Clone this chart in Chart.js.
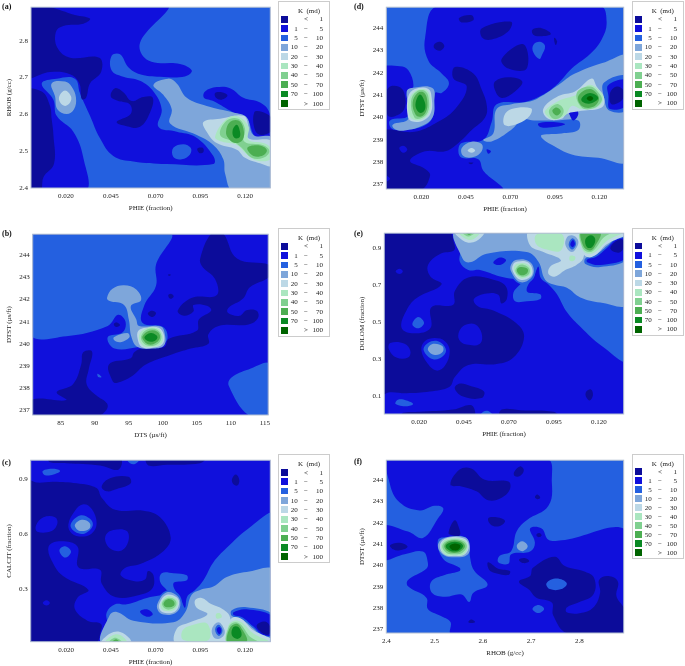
<!DOCTYPE html>
<html>
<head>
<meta charset="utf-8">
<title>K (md) contour panels</title>
<script src="https://cdn.jsdelivr.net/npm/chart.js@4"></script>
<style>
  html, body { margin: 0; background: #fff; overflow: hidden; }
  #page { position: relative; width: 685px; height: 666px; overflow: hidden; font-family: "Liberation Serif", serif; color: #222; }
  canvas { position: absolute; filter: blur(.35px); }
  .tag { position: absolute; font-weight: bold; font-size: 8px; color: #111; }
  .leg { position: absolute; border: 1px solid #ccc; box-sizing: border-box; font-size: 7px; background: #fff; filter: blur(.25px); }
  .leg span, .leg i { position: absolute; white-space: pre; line-height: 8px; }
</style>
</head>
<body>
<div id="page"></div>
<script>
// permeability classes, colour index = class index
const levelLow = ['', '1', '5', '10', '20', '30', '40', '50', '70', ''];
const levelMid = ['<', '\u2212', '\u2212', '\u2212', '\u2212', '\u2212', '\u2212', '\u2212', '\u2212', '>'];
const levelHigh = ['1', '5', '10', '20', '30', '40', '50', '70', '100', '100'];
const levelColors = ['#0c0c9a', '#1010dc', '#2460e0', '#7ea6da', '#bcd8e6', '#aae6c0', '#80d090', '#4cae52', '#0a8a24', '#006400'];

const phieTicks = [0.02, 0.045, 0.07, 0.095, 0.12];
const phieLabels = ['0.020', '0.045', '0.070', '0.095', '0.120'];
const rhobTicks = [2.4, 2.5, 2.6, 2.7, 2.8];
const rhobLabels = ['2.4', '2.5', '2.6', '2.7', '2.8'];
const dtstTicks = [237, 238, 239, 240, 241, 242, 243, 244];
const dtstLabels = ['237', '238', '239', '240', '241', '242', '243', '244'];
const dtsTicks = [85, 90, 95, 100, 105, 110, 115];
const dtsLabels = ['85', '90', '95', '100', '105', '110', '115'];
const calcitTicks = [0.3, 0.6, 0.9];
const calcitLabels = ['0.3', '0.6', '0.9'];
const dolomTicks = [0.1, 0.3, 0.5, 0.7, 0.9];
const dolomLabels = ['0.1', '0.3', '0.5', '0.7', '0.9'];

// contour regions: [class, outline in axis units], painted in order
const regionsA = [
  [1, [[-.003,2.9],[.0762,2.9],[.0613,2.794],[.066,2.746],[.0836,2.737],[.0902,2.719],[.0864,2.703],[.0725,2.702],[.0613,2.709],[.0548,2.728],[.0502,2.763],[.0455,2.759],[.0455,2.719],[.052,2.702],[.0613,2.691],[.0688,2.662],[.0734,2.614],[.0716,2.566],[.0818,2.553],[.092,2.539],[.1022,2.487],[.1022,2.465],[.0762,2.465],[.0576,2.472],[.0464,2.487],[.039,2.535],[.0334,2.596],[.0278,2.658],[.025,2.697],[.0148,2.697],[.0065,2.684],[.013,2.64],[.0148,2.596],[.0241,2.553],[.0297,2.482],[.0306,2.39],[-.003,2.39],[-.003,2.9]]],
  [0, [[-.003,2.9],[.0111,2.891],[.025,2.87],[.0334,2.86],[.0297,2.846],[.0185,2.84],[.0144,2.824],[.0152,2.781],[.0223,2.754],[.0386,2.754],[.0396,2.715],[.0334,2.684],[.0312,2.645],[.0288,2.642],[.0275,2.684],[.0223,2.709],[.0111,2.715],[-.003,2.703],[-.003,2.9]]],
  [0, [[-.003,2.662],[.0065,2.662],[.0111,2.623],[.012,2.588],[.013,2.544],[.0133,2.465],[.0075,2.43],[.0055,2.39],[-.003,2.39],[-.003,2.662]]],
  [0, [[.0474,2.671],[.052,2.66],[.0567,2.636],[.0632,2.647],[.0684,2.645],[.0669,2.605],[.0613,2.566],[.0539,2.568],[.0483,2.579],[.0561,2.601],[.0557,2.627],[.0492,2.636],[.045,2.649],[.0474,2.671]]],
  [1, [[.0976,2.662],[.1041,2.674],[.1115,2.671],[.119,2.645],[.1283,2.632],[.1335,2.605],[.135,2.544],[.1301,2.535],[.1255,2.539],[.1208,2.588],[.1134,2.605],[.1022,2.636],[.097,2.645],[.0976,2.662]]],
  [0, [[.1032,2.658],[.1069,2.66],[.1101,2.651],[.1069,2.64],[.1037,2.645],[.1032,2.658]]],
  [0, [[.0933,2.507],[.0963,2.509],[.0967,2.498],[.0944,2.495],[.0933,2.507]]],
  [2, [[.0799,2.509],[.0855,2.519],[.0896,2.509],[.0892,2.491],[.0846,2.478],[.0799,2.484],[.0799,2.509]]],
  [3, [[.0688,2.68],[.0771,2.697],[.0818,2.684],[.0874,2.645],[.0985,2.623],[.1134,2.605],[.1208,2.592],[.1246,2.544],[.135,2.535],[.135,2.39],[.1134,2.39],[.1088,2.439],[.1078,2.478],[.1022,2.517],[.093,2.544],[.0781,2.575],[.079,2.614],[.0743,2.653],[.0688,2.68]]],
  [0, [[.125,2.605],[.1292,2.607],[.135,2.588],[.135,2.557],[.1292,2.544],[.1255,2.557],[.125,2.605]]],
  [4, [[.0967,2.579],[.106,2.588],[.119,2.596],[.1218,2.566],[.1218,2.535],[.135,2.526],[.135,2.461],[.1283,2.467],[.1199,2.482],[.1153,2.504],[.1041,2.522],[.0985,2.553],[.0967,2.579]]],
  [5, [[.1032,2.539],[.1097,2.588],[.1162,2.594],[.1218,2.566],[.1218,2.531],[.1301,2.522],[.134,2.509],[.134,2.478],[.1264,2.475],[.1199,2.496],[.1153,2.517],[.1069,2.526],[.1032,2.539]]],
  [6, [[.106,2.544],[.1097,2.583],[.1162,2.588],[.1199,2.561],[.1195,2.526],[.1301,2.516],[.1335,2.5],[.1301,2.482],[.1236,2.482],[.118,2.509],[.1134,2.526],[.106,2.544]]],
  [7, [[.1093,2.553],[.1115,2.579],[.1162,2.583],[.119,2.561],[.1186,2.531],[.1143,2.522],[.1106,2.535],[.1093,2.553]]],
  [7, [[.1212,2.509],[.1274,2.516],[.132,2.504],[.1301,2.489],[.1246,2.487],[.1212,2.509]]],
  [8, [[.113,2.557],[.1153,2.572],[.1171,2.553],[.1167,2.537],[.1138,2.537],[.113,2.557]]],
  [3, [[.012,2.684],[.0195,2.689],[.0232,2.675],[.0256,2.645],[.0245,2.614],[.0204,2.601],[.0152,2.614],[.0139,2.649],[.012,2.684]]],
  [4, [[.0163,2.649],[.0195,2.665],[.0228,2.649],[.0223,2.632],[.0195,2.623],[.0167,2.633],[.0163,2.649]]]
];

const regionsB = [
  [2, [[80.5,245],[101,245],[99,243.56],[99,242.62],[97.3,241.75],[97,240.95],[100.2,240.73],[100.4,240.08],[96.5,239.86],[92.9,239.79],[91.9,240.3],[94.1,240.52],[94.5,241.02],[93.4,241.31],[91.9,240.81],[85.8,240.35],[80.5,240.47],[80.5,245]]],
  [2, [[115.8,239.07],[112.6,238.85],[110.1,238.49],[109.7,238.12],[112.7,236.77],[115.8,236.77],[115.8,239.07]]],
  [2, [[90.4,238.66],[91,238.51],[90.5,238.51],[90.4,238.66]]],
  [0, [[105.5,243.85],[107.2,245],[108.8,245],[110.9,243.85],[115.8,243.54],[115.8,243.06],[112.8,242.55],[111.8,242.04],[109.6,241.61],[109.6,241.39],[111.3,241.27],[112.3,241.52],[113.8,241.49],[114,241.17],[112.6,240.88],[108.2,240.81],[106.7,240.44],[106.7,240.01],[104.1,239.79],[101.1,239.5],[97.5,239.07],[95.5,238.56],[93.2,238.24],[92.6,238.34],[92.1,239.09],[95.3,239.36],[95.8,239.62],[97,239.79],[100.2,239.86],[100.9,240.23],[105,240.59],[105.3,241.1],[107.1,241.49],[106.5,241.72],[104.5,241.75],[104.5,241.46],[103.1,241.27],[102.2,241.5],[104.3,242.08],[107.9,242.19],[107.7,242.91],[105.8,243.49],[105.5,243.85]]],
  [0, [[85.8,237.47],[84.4,237.83],[86.8,238.19],[88,239.07],[88.3,239.62],[89.6,239.65],[89.1,238.85],[88.8,238.19],[90.2,237.69],[91.8,237.32],[91.7,237.03],[90.4,236.77],[80.5,236.77],[80.5,237.47],[85.8,237.47]]],
  [0, [[97.8,241.36],[98.4,241.49],[99,241.39],[98.5,241.21],[97.8,241.36]]],
  [0, [[100.8,242.19],[101.2,242.26],[101.6,242.14],[101.1,242.03],[100.8,242.19]]],
  [0, [[100.8,243.13],[101.2,243.11],[100.9,243.06],[100.8,243.13]]],
  [0, [[92.8,240.88],[93.2,240.97],[93.7,240.85],[93.2,240.76],[92.8,240.88]]],
  [3, [[91.8,242.08],[92.6,242.48],[94.3,242.64],[96.1,242.45],[96.8,241.97],[95.3,241.71],[96.1,241.1],[96.5,240.81],[99.7,240.78],[100.3,240.44],[100.2,239.94],[98.7,239.79],[96.3,239.86],[95.4,240.3],[95,241.1],[94.3,241.75],[92.1,241.94],[91.8,242.08]]],
  [3, [[92.8,240.3],[94.8,240.49],[95.1,240.3],[93.8,240.08],[92.9,240.15],[92.8,240.3]]],
  [4, [[96.4,240.59],[97.5,240.73],[99.4,240.73],[100.2,240.37],[99.9,239.97],[98.5,239.83],[96.9,239.86],[96.3,240.23],[96.4,240.59]]],
  [5, [[96.5,240.37],[97.5,240.69],[99.3,240.69],[100,240.34],[99.7,239.97],[98.2,239.86],[97,239.94],[96.5,240.37]]],
  [6, [[96.8,240.34],[97.7,240.65],[99.2,240.63],[99.8,240.33],[99.3,240.01],[98,239.91],[97.1,240.05],[96.8,240.34]]],
  [7, [[97,240.33],[98,240.59],[99.2,240.55],[99.6,240.3],[99,240.05],[98,239.97],[97.3,240.11],[97,240.33]]],
  [8, [[97.3,240.31],[98.2,240.49],[99,240.4],[99.2,240.27],[98.6,240.11],[97.7,240.14],[97.3,240.31]]]
];

const regionsC = [
  [0, [[-.003,.896],[.0037,.879],[.013,.884],[.026,.875],[.037,.849],[.0399,.797],[.0474,.732],[.0632,.727],[.0725,.692],[.0784,.582],[.0743,.508],[.0613,.438],[.0529,.417],[.0505,.377],[.0576,.347],[.0641,.354],[.0658,.4],[.0688,.377],[.0682,.307],[.0613,.272],[.0474,.26],[.0399,.333],[.039,.407],[.0269,.421],[.0263,.534],[.0158,.561],[.0102,.529],[.013,.438],[.0185,.372],[.0325,.298],[.0263,.255],[.025,.193],[.0319,.132],[.0394,.115],[.0394,.074],[.0362,.01],[-.003,.01],[-.003,.896]]],
  [1, [[.0033,.648],[.0074,.692],[.0139,.692],[.0152,.657],[.012,.617],[.004,.613],[.0033,.648]]],
  [1, [[.0213,.652],[.025,.727],[.0297,.762],[.0344,.736],[.0371,.657],[.0344,.604],[.0288,.587],[.0232,.604],[.0213,.652]]],
  [2, [[.0226,.652],[.0278,.701],[.0334,.683],[.0349,.645],[.0306,.604],[.025,.613],[.0226,.652]]],
  [3, [[.025,.652],[.0288,.678],[.0331,.662],[.0331,.631],[.0288,.617],[.026,.627],[.025,.652]]],
  [1, [[.0423,.596],[.0464,.622],[.0539,.617],[.0548,.561],[.0511,.512],[.0455,.517],[.0423,.552],[.0423,.596]]],
  [2, [[.0163,.512],[.0195,.534],[.0228,.505],[.0195,.473],[.0163,.512]]],
  [1, [[.007,.228],[.0092,.242],[.011,.228],[.0092,.214],[.007,.228]]],
  [0, [[.0102,1.01],[.0502,1.01],[.0492,.949],[.039,.972],[.0204,.984],[.0111,.989],[.0102,1.01]]],
  [2, [[.007,.942],[.013,.954],[.0167,.942],[.013,.923],[.0083,.919],[.007,.942]]],
  [0, [[.0399,.858],[.0446,.902],[.0548,.91],[.0561,.875],[.0483,.844],[.0427,.832],[.0399,.858]]],
  [0, [[.065,1.01],[.0976,1.01],[.0948,.984],[.0762,.975],[.066,.972],[.065,1.01]]],
  [0, [[.1128,.902],[.1149,.923],[.1167,.893],[.1156,.863],[.113,.875],[.1128,.902]]],
  [2, [[.0539,1.01],[.0613,1.01],[.0585,.98],[.0557,.984],[.0539,1.01]]],
  [2, [[.136,.704],[.1218,.631],[.1097,.526],[.1022,.447],[.0967,.351],[.092,.298],[.0877,.263],[.0864,.202],[.0846,.237],[.0799,.333],[.0874,.351],[.0874,.377],[.08,.389],[.0734,.389],[.0725,.342],[.0762,.298],[.0781,.281],[.0651,.255],[.0539,.22],[.0474,.22],[.0427,.176],[.0431,.106],[.0409,.01],[.136,.01],[.136,.704]]],
  [1, [[.0613,.181],[.065,.193],[.0684,.167],[.065,.153],[.0613,.181]]],
  [3, [[.0409,.01],[.0442,.158],[.0483,.179],[.0576,.132],[.0799,.123],[.0864,.176],[.0901,.272],[.0948,.298],[.1022,.316],[.1097,.368],[.1208,.395],[.136,.4],[.136,.01],[.0409,.01]]],
  [2, [[.0697,.228],[.0762,.295],[.0827,.277],[.0846,.216],[.0809,.167],[.0744,.158],[.0697,.188],[.0697,.228]]],
  [3, [[.0712,.228],[.0762,.285],[.0822,.265],[.0838,.214],[.0809,.172],[.0744,.165],[.0712,.19],[.0712,.228]]],
  [4, [[.0722,.228],[.0762,.272],[.0818,.258],[.0831,.22],[.0805,.179],[.0748,.175],[.0722,.193],[.0722,.228]]],
  [5, [[.073,.228],[.0765,.264],[.0814,.25],[.0824,.22],[.08,.188],[.075,.185],[.073,.2],[.073,.228]]],
  [6, [[.0736,.228],[.0768,.255],[.0809,.244],[.0814,.214],[.0784,.193],[.0752,.197],[.0736,.228]]],
  [7, [[.0745,.228],[.0768,.248],[.0801,.237],[.0803,.214],[.077,.204],[.075,.21],[.0745,.228]]],
  [4, [[.0814,.01],[.0818,.088],[.0892,.123],[.0989,.167],[.0929,.202],[.092,.242],[.0957,.255],[.1013,.22],[.1075,.193],[.1115,.15],[.1115,.01],[.0814,.01]]],
  [5, [[.0851,.08],[.0911,.11],[.0989,.115],[.0995,.027],[.0855,.027],[.0851,.08]]],
  [5, [[.1037,.167],[.106,.171],[.1069,.15],[.1041,.144],[.1037,.167]]],
  [3, [[.1015,.088],[.105,.123],[.1082,.088],[.1082,.054],[.105,.033],[.1022,.045],[.1015,.088]]],
  [2, [[.1032,.083],[.105,.11],[.1071,.09],[.1069,.062],[.105,.05],[.1032,.083]]],
  [1, [[.1041,.083],[.1054,.097],[.1067,.08],[.1056,.059],[.1041,.083]]],
  [2, [[.1125,.188],[.1208,.204],[.136,.16],[.136,.05],[.1301,.045],[.1246,.09],[.118,.14],[.1125,.158],[.1125,.188]]],
  [1, [[.1135,.178],[.1208,.193],[.136,.15],[.136,.06],[.1301,.054],[.1246,.1],[.118,.152],[.1135,.163],[.1135,.178]]],
  [0, [[.1264,.106],[.1311,.127],[.134,.097],[.1331,.057],[.1292,.067],[.1264,.106]]],
  [4, [[.1102,.01],[.1106,.115],[.1134,.15],[.118,.141],[.1246,.08],[.136,.027],[.136,.01],[.1102,.01]]],
  [5, [[.1102,.01],[.1106,.106],[.1138,.132],[.118,.123],[.1246,.062],[.1329,.018],[.1102,.01]]],
  [6, [[.1102,.01],[.1108,.097],[.1143,.123],[.1175,.111],[.1227,.045],[.1283,.01],[.1102,.01]]],
  [7, [[.1104,.01],[.1112,.088],[.1149,.115],[.1175,.097],[.1208,.018],[.1104,.01]]],
  [8, [[.1125,.054],[.1134,.097],[.1162,.097],[.118,.054],[.1156,.033],[.1125,.054]]],
  [4, [[.0399,.01],[.0446,.062],[.0502,.071],[.0554,.036],[.0561,.01],[.0399,.01]]],
  [5, [[.0418,.01],[.0455,.05],[.0502,.054],[.054,.01],[.0418,.01]]],
  [6, [[.0437,.01],[.0474,.04],[.0516,.01],[.0437,.01]]],
  [7, [[.0455,.01],[.0479,.031],[.05,.01],[.0455,.01]]]
];

const regionsD = [
  [1, [[.0296,245],[.1203,245],[.1241,244.29],[.1213,243.49],[.1148,242.84],[.1045,242.19],[.097,241.54],[.0885,241.03],[.0782,240.7],[.0623,240.6],[.0595,239.8],[.0548,239],[.0427,238.86],[.0408,238.49],[.0427,238.2],[.052,238.13],[.0548,237.62],[.0651,236.75],[-.003,236.75],[-.003,242.12],[.008,242.3],[.0127,242.12],[.0155,241.39],[.0118,241.17],[.0127,240.09],[.0024,239.87],[.0033,239.51],[.0108,239.44],[.0221,239.65],[.0267,240.09],[.0277,241.1],[.0314,241.1],[.0355,241.54],[.0314,241.97],[.0239,242.55],[.0221,243.57],[.0296,245]]],
  [0, [[-.003,239.29],[.0163,239.36],[.0277,239.73],[.039,240.38],[.0455,241.39],[.038,241.75],[.0389,242.26],[.0492,241.97],[.0539,241.25],[.0568,240.52],[.0558,240],[.0483,239.44],[.0408,238.86],[.0334,238.49],[.0221,238.49],[.0136,238.06],[.0221,237.7],[.0249,237.41],[.0193,236.75],[-.003,236.75],[-.003,239.29]]],
  [1, [[.0076,238.64],[.0099,238.74],[.0121,238.57],[.0099,238.42],[.0076,238.64]]],
  [1, [[-.003,237.48],[.0024,237.26],[-.003,237.07],[-.003,237.48]]],
  [0, [[.0014,241.32],[.0071,241.39],[.0104,241.1],[.0104,240.38],[.0052,240.06],[.0011,240.09],[.0005,240.67],[.0014,241.32]]],
  [0, [[.0412,244.46],[.0483,244.58],[.0492,244.36],[.0427,244.26],[.0412,244.46]]],
  [0, [[.0539,243.99],[.0704,244.29],[.0689,243.86],[.0595,243.49],[.0543,243.57],[.0539,243.99]]],
  [0, [[.0824,243.93],[.0876,244],[.0928,243.74],[.0867,243.64],[.0829,243.71],[.0824,243.93]]],
  [0, [[.0947,243.57],[.0962,243.42],[.0955,243.25],[.0947,243.42],[.0947,243.57]]],
  [0, [[.0273,243.28],[.0305,243.39],[.0329,243.2],[.0305,242.99],[.0273,243.1],[.0273,243.28]]],
  [0, [[.0651,242.62],[.0773,243.28],[.0792,242.19],[.0689,242.19],[.0651,242.62]]],
  [0, [[.0614,241.61],[.0689,241.8],[.0767,241.61],[.0726,241.17],[.0651,240.88],[.0614,241.22],[.0614,241.61]]],
  [2, [[.0829,243.25],[.0867,243.39],[.0895,243.2],[.0876,242.77],[.0863,242.62],[.0829,242.92],[.0829,243.25]]],
  [3, [[.0548,239],[.0604,239.29],[.0623,240.38],[.0707,240.6],[.082,240.74],[.0876,240.96],[.097,241.46],[.1063,241.97],[.1232,242.48],[.136,242.7],[.136,238.1],[.1194,238.2],[.1045,238.35],[.0932,238.78],[.0876,239.1],[.0876,239.22],[.0988,239.29],[.1082,239.44],[.1082,239.87],[.0955,239.87],[.0833,239.87],[.0768,239.91],[.0704,239.44],[.0595,238.93],[.0548,239]]],
  [2, [[.1227,241.57],[.136,241.83],[.136,240.38],[.1259,240.3],[.1227,240.88],[.1227,241.57]]],
  [1, [[.1251,241.46],[.136,241.65],[.136,240.6],[.126,240.38],[.1251,240.96],[.1251,241.46]]],
  [0, [[.126,241.1],[.1298,241.39],[.1335,241.22],[.133,240.81],[.1269,240.6],[.126,241.1]]],
  [1, [[.0857,239.73],[.0932,239.8],[.1007,239.7],[.0932,239.56],[.0867,239.58],[.0857,239.73]]],
  [1, [[.1029,240.3],[.1063,240.45],[.1082,240.16],[.1054,239.87],[.1035,240.09],[.1029,240.3]]],
  [1, [[.0567,238.57],[.0591,238.49],[.0576,238.38],[.0567,238.57]]],
  [3, [[.0427,238.64],[.0483,238.92],[.0539,238.81],[.0539,238.49],[.0492,238.23],[.0436,238.28],[.0427,238.64]]],
  [4, [[.046,238.52],[.0483,238.64],[.0502,238.52],[.0483,238.42],[.046,238.52]]],
  [0, [[.0464,237.97],[.0492,237.97],[.0479,237.91],[.0464,237.97]]],
  [3, [[.0039,239.68],[.0127,239.94],[.0118,241.17],[.0146,241.32],[.0262,241.32],[.0273,240.67],[.0264,240.02],[.0211,239.65],[.0108,239.42],[.0052,239.48],[.0039,239.68]]],
  [4, [[.0127,240.96],[.0164,241.28],[.0239,241.28],[.0258,240.88],[.0254,240.23],[.0211,239.87],[.0146,239.83],[.0123,240.09],[.0127,240.96]]],
  [5, [[.0131,240.81],[.0174,241.22],[.023,241.22],[.0252,240.81],[.0243,240.23],[.0202,239.91],[.0155,239.91],[.0131,240.16],[.0131,240.81]]],
  [6, [[.0142,240.74],[.0174,241.17],[.0224,241.17],[.0243,240.74],[.0235,240.23],[.0198,239.97],[.0161,240],[.0142,240.74]]],
  [7, [[.0151,240.67],[.0179,241.1],[.0217,241.1],[.0234,240.67],[.0224,240.23],[.0195,240.04],[.0168,240.12],[.0151,240.67]]],
  [8, [[.0168,240.67],[.0192,241.03],[.0217,240.74],[.0221,240.38],[.0198,240.2],[.0174,240.35],[.0168,240.67]]],
  [4, [[.0666,240.09],[.0707,240.38],[.0816,240.41],[.081,240.09],[.0745,239.73],[.067,239.65],[.0666,240.09]]],
  [4, [[.0885,240.38],[.097,240.96],[.1063,241.17],[.1157,241.75],[.1185,241.39],[.1227,240.88],[.1213,240.45],[.1101,240.3],[.1017,240.16],[.0988,239.94],[.0913,239.94],[.0885,240.38]]],
  [5, [[.0895,240.3],[.097,240.74],[.1073,241.03],[.1138,241.46],[.1185,241.32],[.1223,240.88],[.1185,240.45],[.1101,240.38],[.1045,240.52],[.1007,240.09],[.0942,239.91],[.0904,240.09],[.0895,240.3]]],
  [6, [[.0917,240.3],[.096,240.6],[.0998,240.38],[.0988,240.06],[.0942,239.94],[.0917,240.3]]],
  [6, [[.1073,241.1],[.1148,241.39],[.1204,241.03],[.1213,240.74],[.1166,240.41],[.1101,240.45],[.1073,241.1]]],
  [7, [[.0936,240.3],[.096,240.45],[.0984,240.27],[.096,240.09],[.0936,240.3]]],
  [7, [[.1082,240.96],[.1148,241.28],[.1198,240.88],[.1166,240.48],[.1101,240.52],[.1082,240.96]]],
  [8, [[.1101,240.88],[.1148,241.1],[.1194,240.88],[.1148,240.63],[.1105,240.71],[.1101,240.88]]],
  [9, [[.1129,240.85],[.1148,240.96],[.1166,240.85],[.1148,240.74],[.1129,240.85]]]
];

const regionsE = [
  [0, [[-.003,.104],[.0037,.121],[.013,.116],[.026,.125],[.037,.151],[.0399,.203],[.0474,.268],[.0632,.273],[.0725,.308],[.0784,.418],[.0743,.492],[.0613,.562],[.0529,.583],[.0505,.623],[.0576,.653],[.0641,.646],[.0658,.6],[.0688,.623],[.0682,.693],[.0613,.728],[.0474,.74],[.0399,.667],[.039,.593],[.0269,.579],[.0263,.466],[.0158,.439],[.0102,.471],[.013,.562],[.0185,.628],[.0325,.702],[.0263,.745],[.025,.807],[.0319,.868],[.0394,.885],[.0394,.926],[.0362,.99],[-.003,.99],[-.003,.104]]],
  [1, [[.0033,.352],[.0074,.308],[.0139,.308],[.0152,.343],[.012,.383],[.004,.387],[.0033,.352]]],
  [1, [[.0213,.348],[.025,.273],[.0297,.238],[.0344,.264],[.0371,.343],[.0344,.396],[.0288,.413],[.0232,.396],[.0213,.348]]],
  [2, [[.0226,.348],[.0278,.299],[.0334,.317],[.0349,.355],[.0306,.396],[.025,.387],[.0226,.348]]],
  [3, [[.025,.348],[.0288,.322],[.0331,.338],[.0331,.369],[.0288,.383],[.026,.373],[.025,.348]]],
  [1, [[.0423,.404],[.0464,.378],[.0539,.383],[.0548,.439],[.0511,.488],[.0455,.483],[.0423,.448],[.0423,.404]]],
  [2, [[.0163,.488],[.0195,.466],[.0228,.495],[.0195,.527],[.0163,.488]]],
  [1, [[.007,.772],[.0092,.758],[.011,.772],[.0092,.786],[.007,.772]]],
  [0, [[.0102,-.01],[.0502,-.01],[.0492,.051],[.039,.028],[.0204,.016],[.0111,.011],[.0102,-.01]]],
  [2, [[.007,.058],[.013,.046],[.0167,.058],[.013,.077],[.0083,.081],[.007,.058]]],
  [0, [[.0399,.142],[.0446,.098],[.0548,.09],[.0561,.125],[.0483,.156],[.0427,.168],[.0399,.142]]],
  [0, [[.065,-.01],[.0976,-.01],[.0948,.016],[.0762,.025],[.066,.028],[.065,-.01]]],
  [0, [[.1128,.098],[.1149,.077],[.1167,.107],[.1156,.137],[.113,.125],[.1128,.098]]],
  [2, [[.0539,-.01],[.0613,-.01],[.0585,.02],[.0557,.016],[.0539,-.01]]],
  [2, [[.136,.296],[.1218,.369],[.1097,.474],[.1022,.553],[.0967,.649],[.092,.702],[.0877,.737],[.0864,.798],[.0846,.763],[.0799,.667],[.0874,.649],[.0874,.623],[.08,.611],[.0734,.611],[.0725,.658],[.0762,.702],[.0781,.719],[.0651,.745],[.0539,.78],[.0474,.78],[.0427,.824],[.0431,.894],[.0409,.99],[.136,.99],[.136,.296]]],
  [1, [[.0613,.819],[.065,.807],[.0684,.833],[.065,.847],[.0613,.819]]],
  [3, [[.0409,.99],[.0442,.842],[.0483,.821],[.0576,.868],[.0799,.877],[.0864,.824],[.0901,.728],[.0948,.702],[.1022,.684],[.1097,.632],[.1208,.605],[.136,.6],[.136,.99],[.0409,.99]]],
  [2, [[.0697,.772],[.0762,.705],[.0827,.723],[.0846,.784],[.0809,.833],[.0744,.842],[.0697,.812],[.0697,.772]]],
  [3, [[.0712,.772],[.0762,.715],[.0822,.735],[.0838,.786],[.0809,.828],[.0744,.835],[.0712,.81],[.0712,.772]]],
  [4, [[.0722,.772],[.0762,.728],[.0818,.742],[.0831,.78],[.0805,.821],[.0748,.825],[.0722,.807],[.0722,.772]]],
  [5, [[.073,.772],[.0765,.736],[.0814,.75],[.0824,.78],[.08,.812],[.075,.815],[.073,.8],[.073,.772]]],
  [6, [[.0736,.772],[.0768,.745],[.0809,.756],[.0814,.786],[.0784,.807],[.0752,.803],[.0736,.772]]],
  [7, [[.0745,.772],[.0768,.752],[.0801,.763],[.0803,.786],[.077,.796],[.075,.79],[.0745,.772]]],
  [4, [[.0814,.99],[.0818,.912],[.0892,.877],[.0989,.833],[.0929,.798],[.092,.758],[.0957,.745],[.1013,.78],[.1075,.807],[.1115,.85],[.1115,.99],[.0814,.99]]],
  [5, [[.0851,.92],[.0911,.89],[.0989,.885],[.0995,.973],[.0855,.973],[.0851,.92]]],
  [5, [[.1037,.833],[.106,.829],[.1069,.85],[.1041,.856],[.1037,.833]]],
  [3, [[.1015,.912],[.105,.877],[.1082,.912],[.1082,.946],[.105,.967],[.1022,.955],[.1015,.912]]],
  [2, [[.1032,.917],[.105,.89],[.1071,.91],[.1069,.938],[.105,.95],[.1032,.917]]],
  [1, [[.1041,.917],[.1054,.903],[.1067,.92],[.1056,.941],[.1041,.917]]],
  [2, [[.1125,.812],[.1208,.796],[.136,.84],[.136,.95],[.1301,.955],[.1246,.91],[.118,.86],[.1125,.842],[.1125,.812]]],
  [1, [[.1135,.822],[.1208,.807],[.136,.85],[.136,.94],[.1301,.946],[.1246,.9],[.118,.848],[.1135,.837],[.1135,.822]]],
  [0, [[.1264,.894],[.1311,.873],[.134,.903],[.1331,.943],[.1292,.933],[.1264,.894]]],
  [4, [[.1102,.99],[.1106,.885],[.1134,.85],[.118,.859],[.1246,.92],[.136,.973],[.136,.99],[.1102,.99]]],
  [5, [[.1102,.99],[.1106,.894],[.1138,.868],[.118,.877],[.1246,.938],[.1329,.982],[.1102,.99]]],
  [6, [[.1102,.99],[.1108,.903],[.1143,.877],[.1175,.889],[.1227,.955],[.1283,.99],[.1102,.99]]],
  [7, [[.1104,.99],[.1112,.912],[.1149,.885],[.1175,.903],[.1208,.982],[.1104,.99]]],
  [8, [[.1125,.946],[.1134,.903],[.1162,.903],[.118,.946],[.1156,.967],[.1125,.946]]],
  [4, [[.0399,.99],[.0446,.938],[.0502,.929],[.0554,.964],[.0561,.99],[.0399,.99]]],
  [5, [[.0418,.99],[.0455,.95],[.0502,.946],[.054,.99],[.0418,.99]]],
  [6, [[.0437,.99],[.0474,.96],[.0516,.99],[.0437,.99]]],
  [7, [[.0455,.99],[.0479,.969],[.05,.99],[.0455,.99]]]
];

const regionsF = [
  [1, [[2.407,245],[2.732,245],[2.743,243.94],[2.736,242.8],[2.691,242.12],[2.67,241.59],[2.659,240.68],[2.635,240.45],[2.632,240.15],[2.653,240.08],[2.659,240.53],[2.698,240.65],[2.708,241.06],[2.698,241.74],[2.722,241.74],[2.736,241.21],[2.763,241.18],[2.9,241.56],[2.9,236.8],[2.535,236.8],[2.533,237.35],[2.511,237.65],[2.486,237.96],[2.483,238.49],[2.445,239.02],[2.445,239.32],[2.483,239.85],[2.486,240.15],[2.476,240.65],[2.438,240.53],[2.39,240.3],[2.39,241.82],[2.445,241.59],[2.476,241.29],[2.507,242.2],[2.518,242.68],[2.5,242.8],[2.469,242.58],[2.428,242.95],[2.407,243.86],[2.407,245]]],
  [2, [[2.507,241.18],[2.528,241.33],[2.563,241.33],[2.573,240.85],[2.573,240.47],[2.582,239.76],[2.61,239.09],[2.58,238.71],[2.572,238.29],[2.556,238.64],[2.521,238.53],[2.495,238.71],[2.493,239.24],[2.521,239.55],[2.552,239.74],[2.552,239.89],[2.518,240.3],[2.507,241.18]]],
  [0, [[2.533,243.79],[2.552,244.5],[2.576,244.55],[2.604,244.02],[2.653,243.94],[2.656,243.56],[2.639,243.18],[2.611,243.06],[2.587,243.48],[2.556,243.71],[2.533,243.79]]],
  [0, [[2.665,244.39],[2.677,244.65],[2.685,244.47],[2.677,244.2],[2.666,244.2],[2.665,244.39]]],
  [0, [[2.708,243.21],[2.713,243.33],[2.719,243.18],[2.713,243.11],[2.708,243.21]]],
  [0, [[2.611,242.2],[2.625,242.27],[2.646,242.1],[2.635,241.85],[2.618,241.89],[2.611,242.2]]],
  [0, [[2.529,241.52],[2.542,242.12],[2.552,241.67],[2.552,241.41],[2.538,241.41],[2.529,241.52]]],
  [0, [[2.408,240.95],[2.428,241.06],[2.444,240.88],[2.428,240.71],[2.414,240.76],[2.408,240.95]]],
  [0, [[2.611,240.15],[2.632,239.85],[2.656,239.74],[2.653,239.55],[2.625,239.65],[2.613,239.8],[2.611,240.15]]],
  [0, [[2.675,240.27],[2.687,240.35],[2.696,240.2],[2.684,240.11],[2.675,240.27]]],
  [0, [[2.711,241.44],[2.717,241.52],[2.722,241.41],[2.715,241.33],[2.711,241.44]]],
  [0, [[2.576,237.46],[2.584,237.35],[2.576,237.3],[2.57,237.35],[2.576,237.46]]],
  [0, [[2.675,239.24],[2.698,239.5],[2.704,239.89],[2.749,240.41],[2.77,239.97],[2.812,239.7],[2.831,239.39],[2.829,238.64],[2.798,238.26],[2.774,238.03],[2.774,237.8],[2.801,237.76],[2.829,238.03],[2.843,238.71],[2.841,239.32],[2.86,239.5],[2.88,239.24],[2.877,238.56],[2.895,237.88],[2.895,236.8],[2.777,236.8],[2.746,237.65],[2.743,238.26],[2.711,238.49],[2.696,238.86],[2.675,239.24]]],
  [2, [[2.732,239.17],[2.753,239.39],[2.774,239.17],[2.763,238.89],[2.739,238.89],[2.732,239.17]]],
  [2, [[2.703,237.96],[2.715,238.14],[2.727,237.96],[2.715,237.77],[2.703,237.96]]],
  [3, [[2.671,240.97],[2.682,241.14],[2.693,240.91],[2.684,240.68],[2.673,240.76],[2.671,240.97]]],
  [3, [[2.507,240.95],[2.521,241.29],[2.563,241.32],[2.573,240.95],[2.568,240.5],[2.542,240.38],[2.518,240.5],[2.507,240.95]]],
  [4, [[2.511,240.91],[2.523,241.26],[2.561,241.26],[2.571,240.91],[2.563,240.53],[2.542,240.45],[2.52,240.53],[2.511,240.91]]],
  [5, [[2.513,240.91],[2.525,241.23],[2.559,241.23],[2.569,240.91],[2.561,240.53],[2.542,240.47],[2.521,240.53],[2.513,240.91]]],
  [6, [[2.516,240.91],[2.528,241.18],[2.556,241.18],[2.567,240.91],[2.557,240.58],[2.542,240.53],[2.525,240.59],[2.516,240.91]]],
  [7, [[2.52,240.91],[2.53,241.14],[2.553,241.14],[2.563,240.91],[2.554,240.65],[2.542,240.59],[2.528,240.65],[2.52,240.91]]],
  [8, [[2.523,240.91],[2.534,241.09],[2.551,241.08],[2.559,240.91],[2.551,240.7],[2.542,240.65],[2.531,240.7],[2.523,240.91]]],
  [9, [[2.531,240.91],[2.54,241.02],[2.55,240.99],[2.554,240.91],[2.549,240.74],[2.54,240.71],[2.534,240.77],[2.531,240.91]]]
];

// name, label, background class, data ranges, axis names and ticks, boxes on the page
const panels = [
  { tag: '(a)', tagAt: [2, 2], regions: regionsA, base: 2, xr: [.0005, .134], yr: [2.4, 2.891], xt: phieTicks, xl: phieLabels, yt: rhobTicks, yl: rhobLabels, xName: 'PHIE (fraction)', yName: 'RHOB (g/cc)', left: 0, plot: [31, 1.5, 270.3, 188], leg: [278, 1, 52, 109.3] },
  { tag: '(b)', tagAt: [2, 229], regions: regionsB, base: 1, xr: [80.87, 115.5], yr: [236.8, 244.94], xt: dtsTicks, xl: dtsLabels, yt: dtstTicks, yl: dtstLabels, xName: 'DTS (\u00b5s/ft)', yName: 'DTST (\u00b5s/ft)', left: 0, plot: [32.7, 228.5, 270.3, 415], leg: [278, 228.3, 52, 108.7] },
  { tag: '(c)', tagAt: [2, 458], regions: regionsC, base: 1, xr: [.0003, .134], yr: [.018, 1], xt: phieTicks, xl: phieLabels, yt: calcitTicks, yl: calcitLabels, xName: 'PHIE (fraction)', yName: 'CALCIT (fraction)', left: 0, plot: [30.7, 454.7, 270.3, 641.7], leg: [278, 454.3, 52, 109] },
  { tag: '(d)', tagAt: [354, 2], regions: regionsD, base: 2, xr: [.0003, .1337], yr: [236.8, 244.94], xt: phieTicks, xl: phieLabels, yt: dtstTicks, yl: dtstLabels, xName: 'PHIE (fraction)', yName: 'DTST (\u00b5s/ft)', left: 353, plot: [386.3, 1.7, 623.7, 189], leg: [632, 1, 51.5, 109] },
  { tag: '(e)', tagAt: [354, 229], regions: regionsE, base: 1, xr: [.0007, .1338], yr: [.0044, .978], xt: phieTicks, xl: phieLabels, yt: dolomTicks, yl: dolomLabels, xName: 'PHIE (fraction)', yName: 'DOLOM (fraction)', left: 353, plot: [384.3, 227.3, 623.7, 414], leg: [632, 228, 51.5, 108] },
  { tag: '(f)', tagAt: [354, 457], regions: regionsF, base: 2, xr: [2.4, 2.892], yr: [236.83, 244.94], xt: rhobTicks, xl: rhobLabels, yt: dtstTicks, yl: dtstLabels, xName: 'RHOB (g/cc)', yName: 'DTST (\u00b5s/ft)', left: 353, plot: [386.3, 454.7, 623.7, 633], leg: [632, 454.3, 51.5, 104.7] }
];

const page = document.getElementById('page');
const serif = { family: '"Liberation Serif", serif', size: 7 };

// background colour of the plot and its thin frame
const plotBox = {
  id: 'plotBox',
  beforeDatasetsDraw(chart, args, opts) {
    const a = chart.chartArea, ctx = chart.ctx;
    ctx.fillStyle = opts.color;
    ctx.fillRect(a.left, a.top, a.width, a.height);
  },
  afterDatasetsDraw(chart) {
    const a = chart.chartArea, ctx = chart.ctx;
    ctx.strokeStyle = '#b4c0d2';
    ctx.lineWidth = 1;
    ctx.strokeRect(a.left, a.top, a.width, a.height);
  }
};

// same closing flags the radar controller uses, so outlines curve smoothly at the seam
const closeLoops = {
  id: 'closeLoops',
  afterDatasetsUpdate(chart) {
    chart.getSortedVisibleDatasetMetas().forEach(m => {
      const line = m.dataset;
      line._loop = true;
      line._fullLoop = true;
      line._segments = undefined;
      line._path = undefined;
      line._pointsUpdated = false;
    });
  }
};

function addLegend(p) {
  const [x, y, w, h] = p.leg;
  const box = document.createElement('div');
  box.className = 'leg';
  box.style.cssText = `left:${x}px;top:${y}px;width:${w}px;height:${h}px`;
  const add = (txt, css) => {
    const s = document.createElement('span');
    s.textContent = txt;
    s.style.cssText = css;
    box.appendChild(s);
  };
  add('K  (md)', `left:0;text-align:center;top:${h * .082 - 4}px;width:${w + 8}px`);
  levelColors.forEach((c, i) => {
    const cy = h * .158 + i * h * .0857;
    const s = document.createElement('i');
    s.style.cssText = `left:2.2px;top:${cy - 3.4}px;width:6.7px;height:6.7px;background:${c}`;
    box.appendChild(s);
    add(levelLow[i], `right:${w - 20.7}px;top:${cy - 4}px`);
    add(levelMid[i], `left:25px;top:${cy - 4}px`);
    add(levelHigh[i], `right:${w - 46}px;top:${cy - 4}px`);
  });
  page.appendChild(box);
}

panels.forEach(p => {
  const [pl, pt, pr, pb] = p.plot;
  const top = Math.floor(pt) - 1;
  const w = Math.ceil(pr) + 3 - p.left, h = Math.ceil(pb) + 25 - top;

  const cv = document.createElement('canvas');
  cv.width = w; cv.height = h;
  cv.style.cssText = `left:${p.left}px;top:${top}px;width:${w}px;height:${h}px`;
  page.appendChild(cv);

  const tag = document.createElement('div');
  tag.className = 'tag';
  tag.textContent = p.tag;
  tag.style.left = p.tagAt[0] + 'px';
  tag.style.top = p.tagAt[1] + 'px';
  page.appendChild(tag);

  new Chart(cv, {
    type: 'scatter',
    data: {
      datasets: p.regions.map(([lvl, pts], i) => ({
        // last vertex repeats the first, the loop flags close it instead
        data: pts.slice(0, -1).map(([x, y]) => ({ x, y })),
        showLine: true,
        fill: 'shape',
        backgroundColor: levelColors[lvl],
        borderColor: levelColors[lvl],
        borderWidth: 0,
        pointRadius: 0,
        tension: 0.4,
        capBezierPoints: false,
        order: p.regions.length - i
      }))
    },
    plugins: [plotBox, closeLoops],
    options: {
      responsive: false,
      animation: false,
      events: [],
      layout: { padding: { top: pt - top, right: w - (pr - p.left), left: 0, bottom: 0 } },
      plugins: {
        legend: { display: false },
        tooltip: { enabled: false },
        plotBox: { color: levelColors[p.base] }
      },
      scales: {
        x: {
          type: 'linear',
          min: p.xr[0], max: p.xr[1],
          grid: { display: false, drawTicks: false },
          border: { display: false },
          afterBuildTicks: s => { s.ticks = p.xt.map(v => ({ value: v })); },
          afterFit: s => { s.height = h - (pb - top); },
          ticks: { autoSkip: false, maxRotation: 0, minRotation: 0, padding: 4, color: '#222', font: serif, callback: (v, i) => p.xl[i] },
          title: { display: true, text: p.xName, color: '#222', font: serif, padding: { top: 0, bottom: 1 } }
        },
        y: {
          type: 'linear',
          min: p.yr[0], max: p.yr[1],
          grid: { display: false, drawTicks: false },
          border: { display: false },
          afterBuildTicks: s => { s.ticks = p.yt.map(v => ({ value: v })); },
          afterFit: s => { s.width = pl - p.left; },
          ticks: { autoSkip: false, padding: 3, color: '#222', font: serif, callback: (v, i) => p.yl[i] },
          title: { display: true, text: p.yName, color: '#222', font: serif, padding: { top: 5, bottom: 0 } }
        }
      }
    }
  });

  addLegend(p);
});
</script>
</body>
</html>
